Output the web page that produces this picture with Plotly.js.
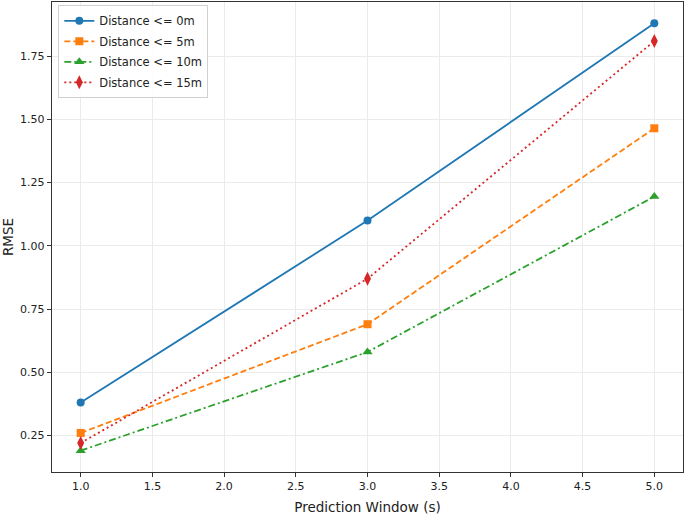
<!DOCTYPE html>
<html>
<head>
<meta charset="utf-8">
<script src="https://cdn.plot.ly/plotly-3.0.1.min.js"></script>
<style>html,body{margin:0;padding:0;background:#fff;}#chart{width:685px;height:518px;}</style>
</head>
<body>
<div id="chart"></div>
<script>
const windows = [1.0, 3.0, 5.0];
const seriesNames = ["Distance <= 0m", "Distance <= 5m", "Distance <= 10m", "Distance <= 15m"];
const rmse0 = [0.38, 1.10, 1.88];
const rmse5 = [0.26, 0.69, 1.465];
const rmse10 = [0.19, 0.58, 1.195];
const rmse15 = [0.22, 0.87, 1.81];
const xTicks = [1.0, 1.5, 2.0, 2.5, 3.0, 3.5, 4.0, 4.5, 5.0];
const yTicks = [0.25, 0.50, 0.75, 1.00, 1.25, 1.50, 1.75];

const styles = [
  {color: "#1f77b4", dash: "solid", symbol: "circle", size: 8},
  {color: "#ff7f0e", dash: "6px,3px", symbol: "square", size: 8},
  {color: "#2ca02c", dash: "7px,3px,2px,3px", symbol: "triangle-up", size: 9},
  {color: "#d62728", dash: "2px,3px", symbol: "diamond-tall", size: 10}
];
const values = [rmse0, rmse5, rmse10, rmse15];
const traces = values.map((v, i) => ({
  x: windows, y: v, name: seriesNames[i], type: "scatter", mode: "lines+markers",
  legendgroup: "g" + i,
  line: {color: styles[i].color, width: 1.8, dash: styles[i].dash},
  marker: {color: styles[i].color, symbol: styles[i].symbol, size: styles[i].size}
}));

const font = {family: "DejaVu Sans, sans-serif", size: 11, color: "#222"};
const titleFont = {family: "DejaVu Sans, sans-serif", size: 13.5, color: "#222"};
const layout = {
  width: 685, height: 518,
  margin: {l: 52, r: 2, t: 2, b: 46},
  paper_bgcolor: "#fff", plot_bgcolor: "#fff",
  font: font,
  showlegend: true,
  legend: {x: 0.01, y: 0.993, xanchor: "left", yanchor: "top",
    bgcolor: "rgba(255,255,255,0.9)", bordercolor: "#d0d0d0", borderwidth: 1,
    font: {family: "DejaVu Sans, sans-serif", size: 11.5, color: "#222"},
    tracegroupgap: 1.5, itemwidth: 30},
  xaxis: {range: [0.8, 5.2], tickvals: xTicks, ticktext: xTicks.map(t => t.toFixed(1)),
    showgrid: true, gridcolor: "#ebebeb", gridwidth: 1, zeroline: false,
    showline: true, linecolor: "#333", linewidth: 1.2, mirror: true,
    ticks: "outside", ticklen: 4, tickcolor: "#333",
    title: {text: "Prediction Window (s)", font: titleFont, standoff: 10}},
  yaxis: {range: [0.1055, 1.9645], tickvals: yTicks, ticktext: yTicks.map(t => t.toFixed(2)),
    showgrid: true, gridcolor: "#ebebeb", gridwidth: 1, zeroline: false,
    showline: true, linecolor: "#333", linewidth: 1.2, mirror: true,
    ticks: "outside", ticklen: 4, tickcolor: "#333",
    title: {text: "RMSE", font: titleFont, standoff: 8}}
};
Plotly.newPlot("chart", traces, layout, {displayModeBar: false, staticPlot: true});
</script>
</body>
</html>
